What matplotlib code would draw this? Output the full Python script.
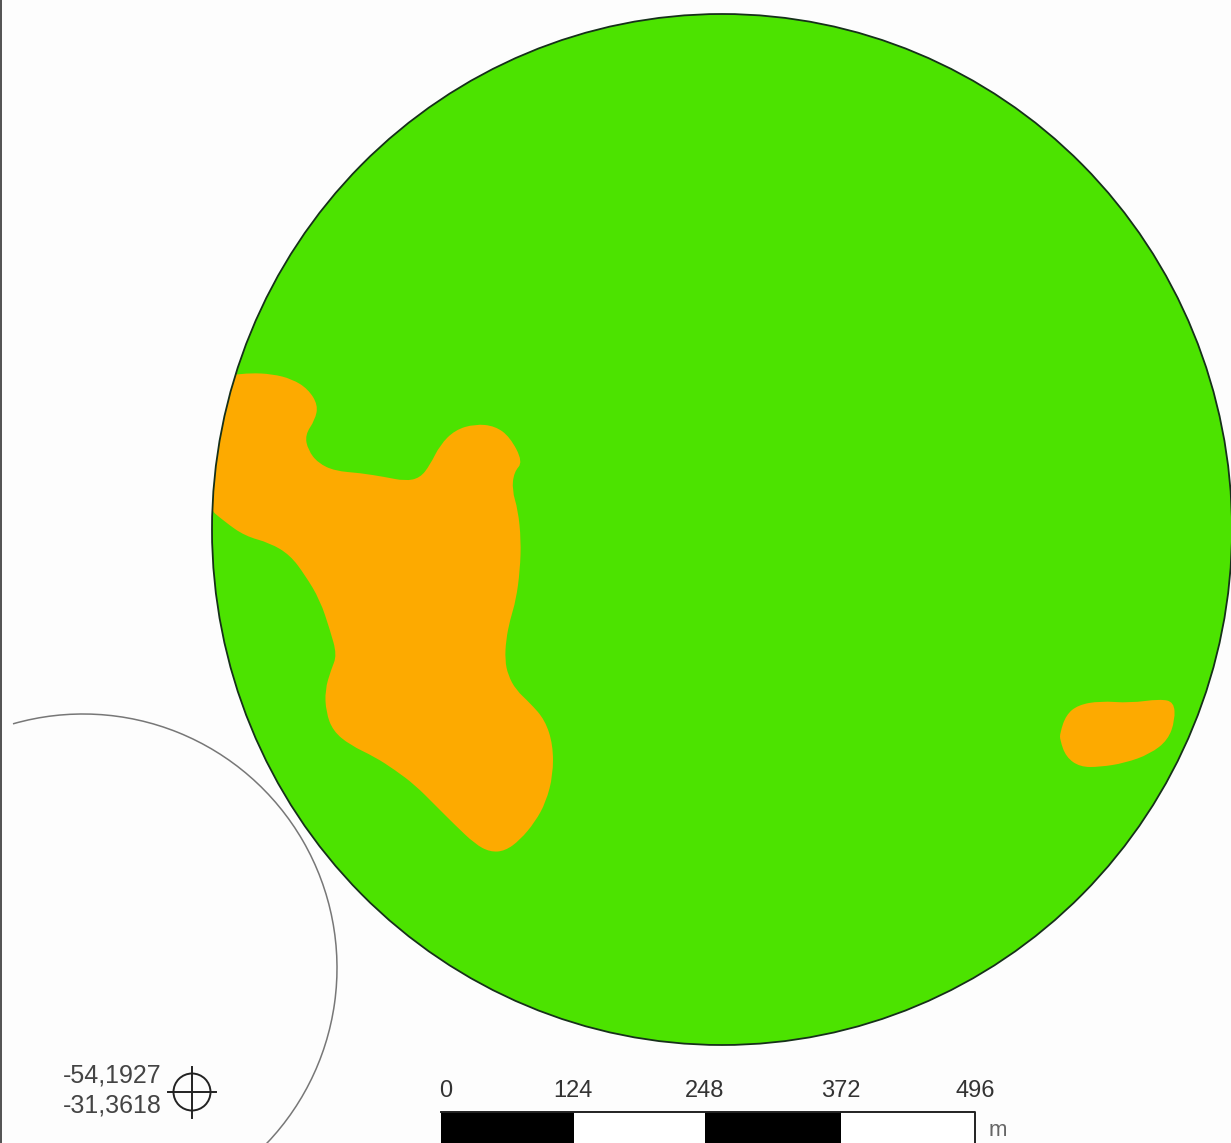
import matplotlib
matplotlib.use('Agg')
import matplotlib.pyplot as plt
from matplotlib.patches import Ellipse, Arc, PathPatch, Rectangle, Circle
from matplotlib.path import Path

plt.rcParams['font.family'] = ['Liberation Sans', 'DejaVu Sans']

# everything in pixels
blob_large_x = [205, 234, 250, 272, 292, 308, 318, 315, 305, 308, 318, 335, 360, 385, 405, 420, 430, 440, 455, 475, 495, 510, 523, 514, 512,
                518, 521, 520, 516, 510, 506, 505, 508, 516, 530, 545, 553, 553, 546, 535, 520, 505, 490, 475, 455, 435, 415, 395, 375, 350,
                333, 326, 325, 331, 337, 330, 320, 305, 290, 270, 245, 225, 205]
blob_large_y = [372, 375, 373, 374, 379, 389, 405, 420, 435, 450, 463, 471, 473, 477, 481, 478, 465, 445, 430, 424, 426, 437, 462, 472, 490,
                510, 540, 570, 600, 620, 640, 660, 675, 690, 703, 720, 745, 775, 802, 822, 840, 851, 852, 844, 825, 805, 785, 770, 757, 745,
                731, 712, 690, 670, 655, 630, 600, 575, 555, 543, 536, 522, 505]
blob_small_x = [1060, 1066, 1078, 1100, 1130, 1160, 1174, 1175, 1168, 1150, 1125, 1100, 1080, 1066, 1060]
blob_small_y = [733, 715, 705, 701, 703, 699, 702, 720, 740, 754, 763, 767, 767, 757, 740]

bar_edges = [441, 574, 705, 841, 975]
bar_colors = ['black', 'white', 'black', 'white']
bar_labels = ['0', '124', '248', '372', '496']
bar_label_x = [446, 573, 705, 841, 975]
coord_labels = ['-54,1927', '-31,3618']

GREEN = '#4ce300'
ORANGE = '#fdaa00'


# rounded outline: the read points act as control points of a closed curve
def blob_path(xs, ys):
    pts = list(zip(xs, ys))
    if pts[0] == pts[-1]:
        pts = pts[:-1]
    mids = [((pts[i][0] + pts[(i + 1) % len(pts)][0]) / 2, (pts[i][1] + pts[(i + 1) % len(pts)][1]) / 2)
            for i in range(len(pts))]
    verts = [mids[-1]]
    codes = [Path.MOVETO]
    for p, m in zip(pts, mids):
        verts += [p, m]
        codes += [Path.CURVE3, Path.CURVE3]
    return Path(verts, codes)


fig = plt.figure(figsize=(12.31, 11.43), dpi=100, facecolor='#fdfdfd')
ax = fig.add_axes([0, 0, 1, 1])
ax.set_xlim(0, 1231)
ax.set_ylim(1143, 0)
ax.axis('off')

# left window edge
ax.add_patch(Rectangle((0, 0), 2, 1143, fc='#555555', ec='none'))

# neighbouring plot outline, only the part that shows
ax.add_patch(Arc((83, 968), 508, 508, theta1=-106, theta2=46, ec='#777777', lw=1.1))

# main plot
disc = Ellipse((722, 529.5), 1020, 1031, fc=GREEN, ec='none', zorder=2)
ax.add_patch(disc)
big = PathPatch(blob_path(blob_large_x, blob_large_y), fc=ORANGE, ec='none', zorder=3)
ax.add_patch(big)
big.set_clip_path(disc)
small = PathPatch(blob_path(blob_small_x, blob_small_y), fc=ORANGE, ec='none', zorder=3)
ax.add_patch(small)
ax.add_patch(Ellipse((722, 529.5), 1020, 1031, fc='none', ec='#16301a', lw=1.3, zorder=4))

# coordinates + marker
ax.text(162, 1075, coord_labels[0], ha='right', va='center', fontsize=18, color='#444444')
ax.text(162, 1105, coord_labels[1], ha='right', va='center', fontsize=18, color='#444444')
ax.add_patch(Circle((192, 1092), 18.5, fc='none', ec='#222222', lw=1.4))
ax.plot([168, 216], [1092, 1092], color='#222222', lw=1.4)
ax.plot([192, 192], [1067, 1118], color='#222222', lw=1.4)

# scale bar
for i in range(len(bar_colors)):
    ax.add_patch(Rectangle((bar_edges[i], 1112), bar_edges[i + 1] - bar_edges[i], 40,
                           fc=bar_colors[i], ec='none'))
ax.plot([441, 975, 975], [1112, 1112, 1143], color='#222222', lw=1.4)
for i in range(len(bar_labels)):
    ax.text(bar_label_x[i], 1091, bar_labels[i], ha='center', va='center', fontsize=17, color='#333333')
ax.text(998, 1130, 'm', ha='center', va='center', fontsize=16, color='#666666')

fig.savefig('out.png', dpi=100, facecolor=fig.get_facecolor())
